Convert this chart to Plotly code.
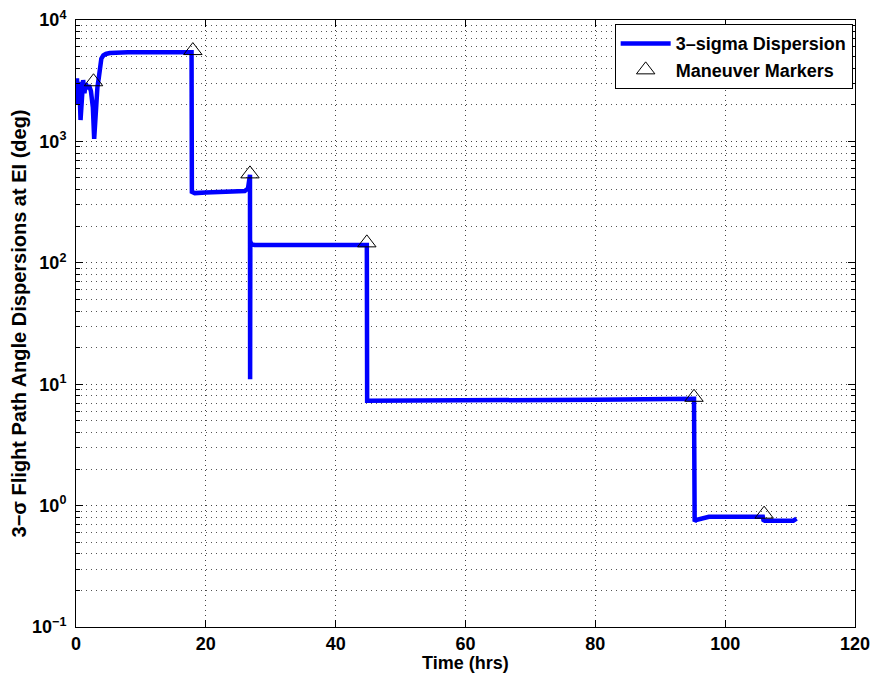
import plotly.graph_objects as go

# Data
time_hrs = [0, 0.15, 0.3, 0.5, 0.7, 0.9, 1.1, 1.3, 1.5, 1.8, 2.0, 2.3, 2.6, 2.8, 2.95, 3.1, 3.3, 3.5, 3.7,
            3.9, 4.2, 4.6, 5.2, 6.0, 8.0, 12.0, 16.0, 17.8, 17.85, 18.3, 20.0, 24.0, 26.0, 26.5, 26.8, 26.82,
            26.85, 27.0, 27.5, 30.0, 40.0, 44.6, 44.8, 44.85, 45.2, 60.0, 80.0, 95.2, 95.3, 95.5, 97.5,
            100.0, 105.8, 105.9, 106.1, 108.0, 110.5, 111.0]
sigma3 = [2000, 3300, 2300, 3100, 1500, 2800, 3200, 2500, 3000, 2700, 2900, 2600, 1900, 1050, 1500, 2400,
          2800, 3300, 4200, 4800, 5100, 5250, 5350, 5400, 5420, 5430, 5430, 5430, 385, 375, 380, 385,
          390, 410, 530, 11, 150, 142, 140, 140, 140, 140, 140, 7.3, 7.3, 7.35, 7.45, 7.6, 0.74, 0.76,
          0.81, 0.81, 0.81, 0.76, 0.75, 0.75, 0.75, 0.78]

marker_t = [2.7, 18.0, 26.8, 44.8, 95.2, 106.0]
marker_v = [3100, 5600, 540, 146, 7.8, 0.85]

x_ticks = [0, 20, 40, 60, 80, 100, 120]
y_ticks = [0.1, 1, 10, 100, 1000, 10000]
y_tick_text = ["10<sup>\u22121</sup>", "10<sup>0</sup>", "10<sup>1</sup>",
               "10<sup>2</sup>", "10<sup>3</sup>", "10<sup>4</sup>"]
y_minor_ticks = [m * d for d in y_ticks[:-1] for m in range(2, 10)]

font_family = "Liberation Sans, Arial, Helvetica, sans-serif"
grid_dash = "1px,4px"

fig = go.Figure()
fig.add_trace(go.Scatter(
    x=time_hrs, y=sigma3, mode="lines", name="3\u2013sigma Dispersion",
    line=dict(color="#0000FF", width=4.5),
))
fig.add_trace(go.Scatter(
    x=marker_t, y=marker_v, mode="markers", name="Maneuver Markers",
    marker=dict(symbol="triangle-up-open", size=16, color="black", line=dict(width=1, color="black")),
))

# page body has an 8px margin, so the figure is sized/placed to compensate
fig.update_layout(
    width=870, height=669,
    margin=dict(l=68, r=23, t=12, b=50),
    paper_bgcolor="white", plot_bgcolor="white",
    font=dict(family=font_family, size=18, color="black", weight="bold"),
    showlegend=True,
    legend=dict(
        x=0.997, y=0.993, xanchor="right", yanchor="top",
        bordercolor="black", borderwidth=1, bgcolor="white",
        font=dict(family=font_family, size=18, color="black", weight="bold"),
        tracegroupgap=0, itemwidth=50,
    ),
    annotations=[dict(
        text="Time (hrs)", xref="paper", yref="paper", x=0.5, y=0,
        xanchor="center", yanchor="middle", yshift=-36, showarrow=False,
        font=dict(family=font_family, size=18, color="black", weight="bold"),
    )],
)

fig.update_xaxes(
    range=[0, 120], tickvals=x_ticks, ticktext=[str(v) for v in x_ticks],
    showline=True, linecolor="black", linewidth=1, mirror="ticks",
    ticks="inside", ticklen=7, tickcolor="black", ticklabeloverflow="allow",
    showgrid=True, gridcolor="#444444", griddash=grid_dash, gridwidth=1,
    zeroline=False, automargin=False,
    tickfont=dict(family=font_family, size=18, color="black", weight="bold"),
)
fig.update_yaxes(
    type="log", range=[-1, 4], tickvals=y_ticks, ticktext=y_tick_text,
    showline=True, linecolor="black", linewidth=1, mirror="ticks",
    ticks="inside", ticklen=7, tickcolor="black", ticklabelstandoff=5,
    ticklabeloverflow="allow",
    showgrid=True, gridcolor="#444444", griddash=grid_dash, gridwidth=1,
    zeroline=False, automargin=False,
    minor=dict(tickvals=y_minor_ticks, ticks="inside", ticklen=4, tickcolor="black", showgrid=True,
               gridcolor="#555555", griddash=grid_dash, gridwidth=1),
    tickfont=dict(family=font_family, size=18, color="black", weight="bold"),
    title=dict(text="3\u2212\u03c3 Flight Path Angle Dispersions at EI (deg)", standoff=3,
               font=dict(family=font_family, size=20, color="black", weight="bold")),
)

fig.write_html("out.html")
